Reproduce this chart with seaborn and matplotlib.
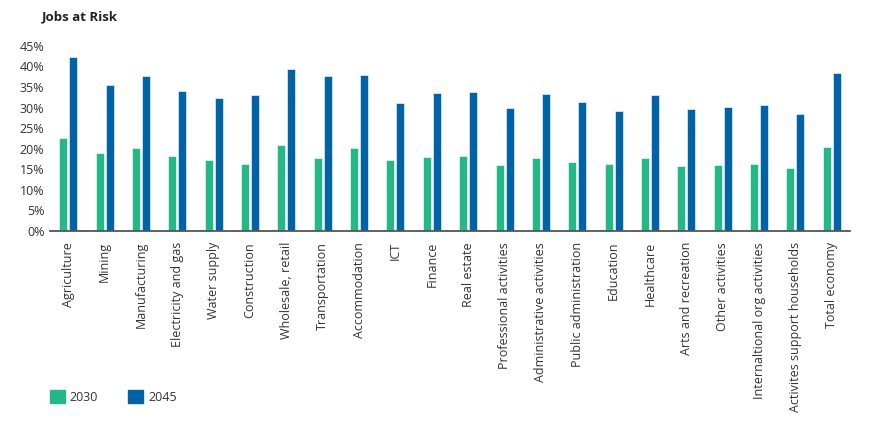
import matplotlib
matplotlib.use('Agg')
import matplotlib.pyplot as plt
import matplotlib.patches as mpatches
from matplotlib.ticker import FuncFormatter
import pandas as pd
import seaborn as sns

# chart data
sectors = ['Agriculture', 'Mining', 'Manufacturing', 'Electricity and gas', 'Water supply',
           'Construction', 'Wholesale, retail', 'Transportation', 'Accommodation', 'ICT',
           'Finance', 'Real estate', 'Professional activities', 'Administrative activities',
           'Public administration', 'Education', 'Healthcare', 'Arts and recreation',
           'Other activities', 'Internaltional org activities', 'Activites support households',
           'Total economy']
risk_2030 = [22.7, 19.0, 20.1, 18.2, 17.3, 16.2, 21.0, 17.8, 20.2, 17.3, 17.9,
             18.1, 15.9, 17.8, 16.8, 16.2, 17.7, 15.8, 16.1, 16.3, 15.2, 20.4]
risk_2045 = [42.4, 35.6, 37.7, 34.1, 32.4, 33.1, 39.3, 37.7, 37.9, 31.1, 33.6,
             33.9, 29.9, 33.3, 31.4, 29.2, 33.1, 29.7, 30.1, 30.6, 28.5, 38.5]
years = ['2030', '2045']
colors = {'2030': '#24B886', '2045': '#0063A6'}

df = pd.DataFrame({
    'sector': sectors * 2,
    'year': ['2030'] * len(sectors) + ['2045'] * len(sectors),
    'risk': risk_2030 + risk_2045,
})

sns.set_style('white')
plt.rcParams['font.family'] = ['Open Sans', 'DejaVu Sans']
text_color = '#333333'

fig, ax = plt.subplots(figsize=(8.7, 4.33), dpi=100)
fig.subplots_adjust(left=0.0575, right=0.977, top=0.894, bottom=0.467)

sns.barplot(data=df, x='sector', y='risk', hue='year', hue_order=years,
            palette=colors, saturation=1, width=0.55, gap=0.2, legend=False, ax=ax,
            edgecolor='white', linewidth=0.4)

ax.set_xlim(-0.5, len(sectors) - 0.5)
ax.set_ylim(0, 45)
ax.set_yticks(range(0, 46, 5))
ax.yaxis.set_major_formatter(FuncFormatter(lambda v, _: f'{v:.0f}%'))
ax.set_xlabel('')
ax.set_ylabel('')
ax.tick_params(axis='x', labelrotation=90, labelsize=9, colors=text_color, length=0, pad=8)
ax.tick_params(axis='y', labelsize=9, colors=text_color, length=0, pad=4)
for lbl in ax.get_xticklabels():
    lbl.set_verticalalignment('top')

sns.despine(ax=ax, left=True)
ax.spines['bottom'].set_color('#555555')
ax.spines['bottom'].set_linewidth(1.3)

fig.text(0.048, 0.96, 'Jobs at Risk', fontsize=9.5, fontweight='bold',
         color='#222222', va='center')

handles = [mpatches.Patch(color=colors[y], label=y) for y in years]
fig.legend(handles=handles, loc='center left', bbox_to_anchor=(0.057, 0.083),
           ncol=2, frameon=False, fontsize=9, handlelength=1.2, handleheight=1.2,
           handletextpad=0.4, columnspacing=2.4, labelcolor=text_color,
           borderaxespad=0, borderpad=0)

plt.savefig('out.png', dpi=100)
